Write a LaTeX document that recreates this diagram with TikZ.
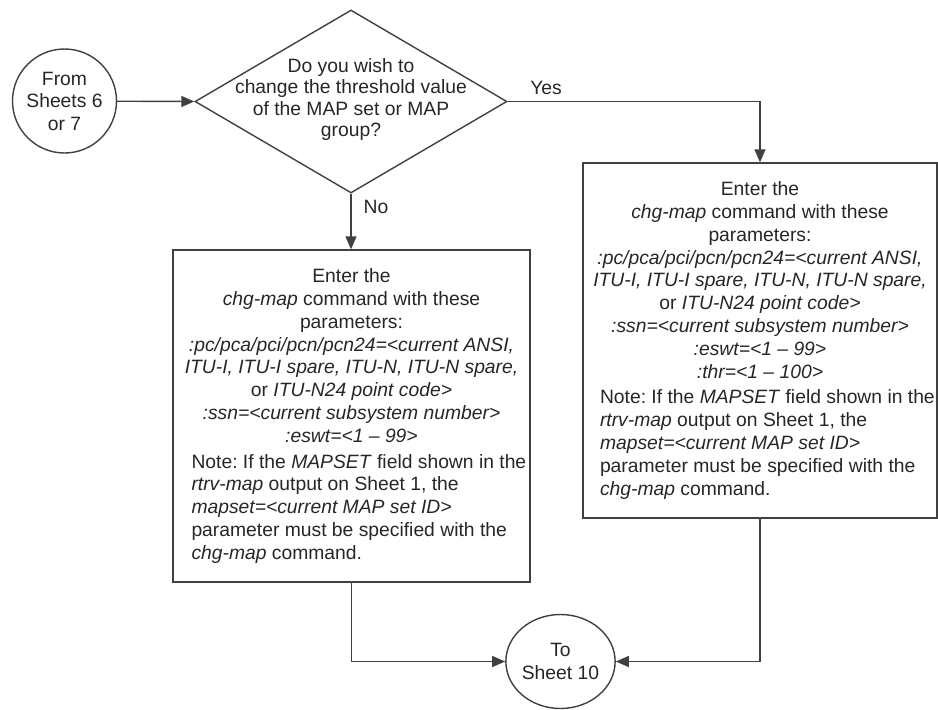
\documentclass[tikz,border=0pt]{standalone}
\usepackage{fontspec}
\setmainfont{Liberation Sans}
\usetikzlibrary{shapes.geometric,arrows.meta}
\frenchspacing
\newcommand{\notetext}{\parbox[t]{320pt}{\raggedright\frenchspacing
\mbox{Note: If the \textit{MAPSET} field shown in the}\\
\mbox{\textit{rtrv-map} output on Sheet 1, the}\\
\mbox{\textit{mapset=<current MAP set ID>}}\\
\mbox{parameter must be specified with the}\\
\mbox{\textit{chg-map} command.}}}
\tikzset{
  every node/.style={text=black!85},
  flowline/.style={draw=black!75, line width=1.4pt},
  arr/.style={flowline, -{Triangle[length=13pt,width=11pt]}},
  txt/.style={font=\fontsize{19.3}{22.8}\selectfont, align=center, inner sep=0pt},
  procbox/.style={draw=black!75, line width=1.4pt, rectangle, inner sep=0pt,
    font=\fontsize{19.3}{22.8}\selectfont, align=center},
  connector/.style={draw=black!75, line width=1.4pt, circle, inner sep=0pt,
    font=\fontsize{19.3}{22.5}\selectfont, align=center},
  decision/.style={draw=black!75, line width=1.4pt, diamond, inner sep=0pt},
}
\begin{document}
\begin{tikzpicture}[x=1pt,y=-1pt]
\useasboundingbox (0,0) rectangle (938,710);

\node[connector, minimum size=104pt] (start) at (64.5,101) {From\\Sheets 6\\or 7};

\node[decision, minimum width=312pt, minimum height=183pt] (dec) at (351,101.5) {};
\node[txt, font=\fontsize{19.3}{21.2}\selectfont] (dectext) at (351,99.5)
  {Do you wish to\\change the threshold value\\of the MAP set or MAP\\group?};

\node[procbox, minimum width=357pt, minimum height=332pt] (L) at (351.5,416) {%
Enter the\\
\textit{chg-map} command with these\\
parameters:\\
\textit{:pc/pca/pci/pcn/pcn24=<current ANSI,}\\
\textit{ITU-I, ITU-I spare, ITU-N, ITU-N spare,}\\
or \textit{ITU-N24 point code>}\\
\textit{:ssn=<current subsystem number>}\\
\textit{:eswt=<1 \textendash\ 99>}\\[3pt]
\notetext};

\node[procbox, minimum width=354pt, minimum height=355pt] (R) at (760,340.5) {%
Enter the\\
\textit{chg-map} command with these\\
parameters:\\
\textit{:pc/pca/pci/pcn/pcn24=<current ANSI,}\\
\textit{ITU-I, ITU-I spare, ITU-N, ITU-N spare,}\\
or \textit{ITU-N24 point code>}\\
\textit{:ssn=<current subsystem number>}\\
\textit{:eswt=<1 \textendash\ 99>}\\
\textit{:thr=<1 \textendash\ 100>}\\[3pt]
\notetext};

\node[connector, ellipse, minimum width=106pt, minimum height=94pt] (end) at (560.5,661.5) {To\\Sheet 10};

\node[txt] (yes) at (546,88) {Yes};
\node[txt] (no) at (376,207) {No};

\draw[arr] (start) -- (dec.west);
\draw[arr] (dec.south) -- (dec.south |- L.north);
\draw[arr] (dec.east) -| (R.north);
\draw[arr] (L.south) |- (end.west);
\draw[arr] (R.south) |- (end.east);
\end{tikzpicture}
\end{document}
